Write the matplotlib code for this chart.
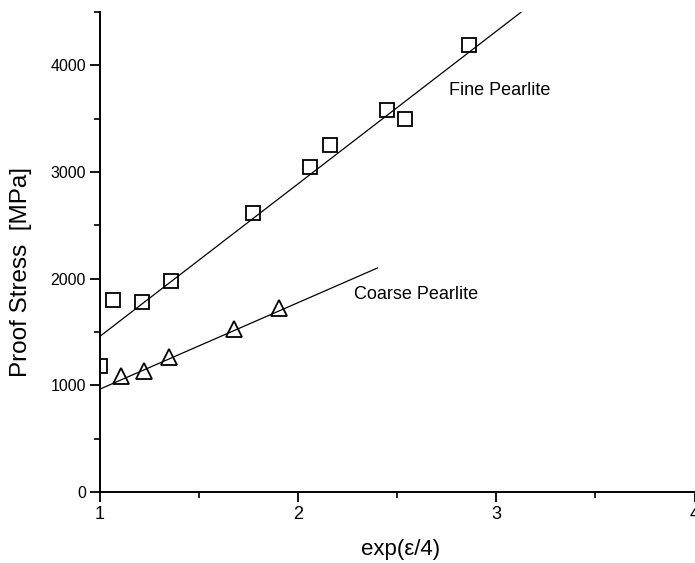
import matplotlib
matplotlib.use("Agg")
import matplotlib.pyplot as plt
from matplotlib.ticker import MultipleLocator

plt.rcParams["font.family"] = ["Liberation Sans", "DejaVu Sans"]

# fine pearlite: measured proof stress vs exp(eps/4)
fine_x = [1.00, 1.065, 1.21, 1.36, 1.77, 2.06, 2.16, 2.45, 2.54, 2.86]
fine_y = [1180, 1800, 1780, 1975, 2615, 3045, 3250, 3580, 3495, 4190]
fine_fit_x = [1.0, 3.126]
fine_fit_y = [1460, 4500]

# coarse pearlite
coarse_x = [1.105, 1.22, 1.35, 1.675, 1.905]
coarse_y = [1085, 1135, 1265, 1525, 1725]
coarse_fit_x = [1.0, 2.40]
coarse_fit_y = [965, 2100]

fig = plt.figure(figsize=(6.95, 5.63), dpi=100)
ax = fig.add_axes([0.1439, 0.1261, 0.8554, 0.8526])

ax.plot(fine_fit_x, fine_fit_y, color="black", lw=0.9)
ax.plot(coarse_fit_x, coarse_fit_y, color="black", lw=0.9)
ax.plot(fine_x, fine_y, ls="none", marker="s", ms=10, mfc="none",
        mec="black", mew=1.3)
ax.plot(coarse_x, coarse_y, ls="none", marker="^", ms=12, mfc="none",
        mec="black", mew=1.3)

ax.text(2.763, 3766, "Fine Pearlite", fontsize=13, va="center", ha="left")
ax.text(2.28, 1855, "Coarse Pearlite", fontsize=13, va="center", ha="left")

ax.set_xlim(1, 4)
ax.set_ylim(0, 4500)
ax.xaxis.set_major_locator(MultipleLocator(1))
ax.xaxis.set_minor_locator(MultipleLocator(0.5))
ax.yaxis.set_major_locator(MultipleLocator(1000))
ax.yaxis.set_minor_locator(MultipleLocator(500))

for side in ("top", "right"):
    ax.spines[side].set_visible(False)
for side in ("left", "bottom"):
    ax.spines[side].set_linewidth(1.4)

ax.tick_params(which="major", direction="out", length=7, width=1.3, pad=3)
ax.tick_params(which="minor", direction="out", length=4, width=1.2)
ax.tick_params(axis="x", labelsize=13)
ax.tick_params(axis="y", labelsize=11.5)

ax.set_xlabel("exp(\u03b5/4)", fontsize=16)
ax.set_ylabel("Proof Stress  [MPa]", fontsize=17.5)
ax.xaxis.set_label_coords(0.505, -0.098)
ax.yaxis.set_label_coords(-0.1145, 0.458)

fig.savefig("out.png", dpi=100)
